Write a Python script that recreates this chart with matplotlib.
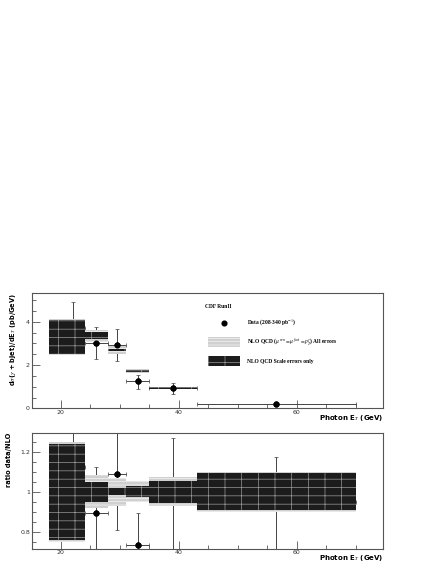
import matplotlib
matplotlib.use("Agg")
import matplotlib.pyplot as plt
from matplotlib.patches import Rectangle
from matplotlib.ticker import MultipleLocator
import numpy as np

# bins in photon E_T (GeV)
bin_lo = [18, 24, 28, 31, 35, 43]
bin_hi = [24, 28, 31, 35, 43, 70]

# NLO prediction and relative errors
nlo = [3.30, 3.35, 2.68, 1.72, 0.94, 0.20]
scale_rel = [0.24, 0.05, 0.017, 0.028, 0.055, 0.093]
all_rel = [0.25, 0.083, 0.071, 0.052, 0.073, 0.10]

# data
data_x = [22.0, 26.0, 29.5, 33.0, 39.0, 56.5]
data_y = [3.70, 3.00, 2.92, 1.26, 0.92, 0.19]
data_err_lo = [1.10, 0.73, 0.75, 0.36, 0.26, 0.06]
data_err_hi = [1.20, 0.77, 0.75, 0.28, 0.27, 0.045]

plt.rcParams['hatch.linewidth'] = 0.5
plt.rcParams['mathtext.fontset'] = 'stix'

fig = plt.figure(figsize=(4.36, 5.64), dpi=100)
ax1 = fig.add_axes([0.0734, 0.276, 0.805, 0.2045])
ax2 = fig.add_axes([0.0734, 0.0266, 0.805, 0.2057])

lo = np.array(bin_lo, float)
hi = np.array(bin_hi, float)
nlo_a = np.array(nlo)
sr = np.array(scale_rel)
ar = np.array(all_rel)
dx = np.array(data_x)
dy = np.array(data_y)
elo = np.array(data_err_lo)
ehi = np.array(data_err_hi)
xerr = [dx - lo, hi - dx]

ALL_STYLE = dict(facecolor='#d0d0d0', edgecolor='#f4f4f4', hatch='-----', lw=0, zorder=3)
SCALE_STYLE = dict(facecolor='#1c1c1c', edgecolor='#9a9a9a', hatch='+-', lw=0, zorder=4)


def draw_bands(ax, centre, scale):
    for i in range(len(lo)):
        c = centre[i]
        a = ar[i] * scale[i]
        s = sr[i] * scale[i]
        ax.add_patch(Rectangle((lo[i], c - a), hi[i] - lo[i], 2 * a, **ALL_STYLE))
        ax.add_patch(Rectangle((lo[i], c - s), hi[i] - lo[i], 2 * s, **SCALE_STYLE))


def style(ax):
    ax.set_xlim(15.1, 74.6)
    ax.xaxis.set_major_locator(MultipleLocator(20))
    ax.xaxis.set_minor_locator(MultipleLocator(5))
    ax.tick_params(which='both', direction='in', labelsize=4.5, colors='#333333',
                   top=False, right=False, width=0.5)
    ax.tick_params(which='major', length=6)
    ax.tick_params(which='minor', length=3)
    ax.tick_params(axis='x', pad=1)
    ax.tick_params(axis='y', pad=1.5)
    for s in ax.spines.values():
        s.set_linewidth(0.8)
        s.set_color('#555555')
    ax.set_xlabel('Photon E$_T$ (GeV)', fontsize=5, fontweight='bold', ha='right',
                  va='center')
    ax.xaxis.set_label_coords(1.0, -0.08)


# top panel
draw_bands(ax1, nlo_a, nlo_a)
ax1.errorbar(dx, dy, yerr=[elo, ehi], xerr=xerr, fmt='o', color='black', ecolor='#444444',
             ms=3.4, elinewidth=0.7, capsize=1.2, capthick=0.5, zorder=2)
ax1.plot(dx[1:], dy[1:], 'o', color='black', ms=3.4, zorder=5)
ax1.set_ylim(0, 5.33)
ax1.yaxis.set_major_locator(MultipleLocator(2))
ax1.yaxis.set_minor_locator(MultipleLocator(0.5))
style(ax1)
ax1.set_ylabel(r'd$\sigma$($\gamma$ + bjet)/dE$_T$ (pb/GeV)', fontsize=4.8,
               fontweight='bold', loc='top', labelpad=6)

# legend drawn by hand in axes coords
tf = ax1.transAxes
def fx(px):
    return (px - 32) / 351.0
def fy(py):
    return (408.3 - py) / 115.3

LEG_FONT = dict(transform=tf, fontsize=4.0, family='Liberation Serif', fontweight='bold',
                va='center')
ax1.text(fx(205), fy(306), 'CDF RunII', **LEG_FONT)
ax1.plot([fx(224.3)], [fy(322.7)], 'o', color='black', ms=3.4, transform=tf, clip_on=False)
ax1.text(fx(247), fy(322.7), 'Data (208-340 pb$^{-1}$)', **LEG_FONT)
ax1.add_patch(Rectangle((fx(207.7), fy(346.7)), fx(240.3) - fx(207.7), fy(337) - fy(346.7),
                        transform=tf, **ALL_STYLE))
ax1.text(fx(247), fy(342), r'NLO QCD ($\mu^{ren}=\mu^{fact}=p_T^{\gamma}$) All errors', **LEG_FONT)
ax1.add_patch(Rectangle((fx(207.7), fy(366.3)), fx(240.3) - fx(207.7), fy(355.7) - fy(366.3),
                        transform=tf, **SCALE_STYLE))
ax1.text(fx(247), fy(361), 'NLO QCD Scale errors only', **LEG_FONT)

# bottom panel: ratio
ratio = dy / nlo_a
draw_bands(ax2, np.ones(len(lo)), np.ones(len(lo)))
ax2.errorbar(dx, ratio, yerr=[elo / nlo_a, ehi / nlo_a], xerr=xerr, fmt='o', color='black',
             ecolor='#444444', ms=3.4, elinewidth=0.7, capsize=1.2, capthick=0.5, zorder=2)
ax2.plot(dx[[1, 2, 3]], ratio[[1, 2, 3]], 'o', color='black', ms=3.4, zorder=5)
ax2.set_ylim(0.715, 1.293)
ax2.yaxis.set_minor_locator(MultipleLocator(0.05))
ax2.set_yticks([0.8, 1.0, 1.2])
ax2.set_yticklabels(['0.8', '1', '1.2'])
style(ax2)
ax2.set_ylabel('ratio data/NLO', fontsize=4.8, fontweight='bold', loc='top', labelpad=6)

fig.savefig('out.png', dpi=100)
